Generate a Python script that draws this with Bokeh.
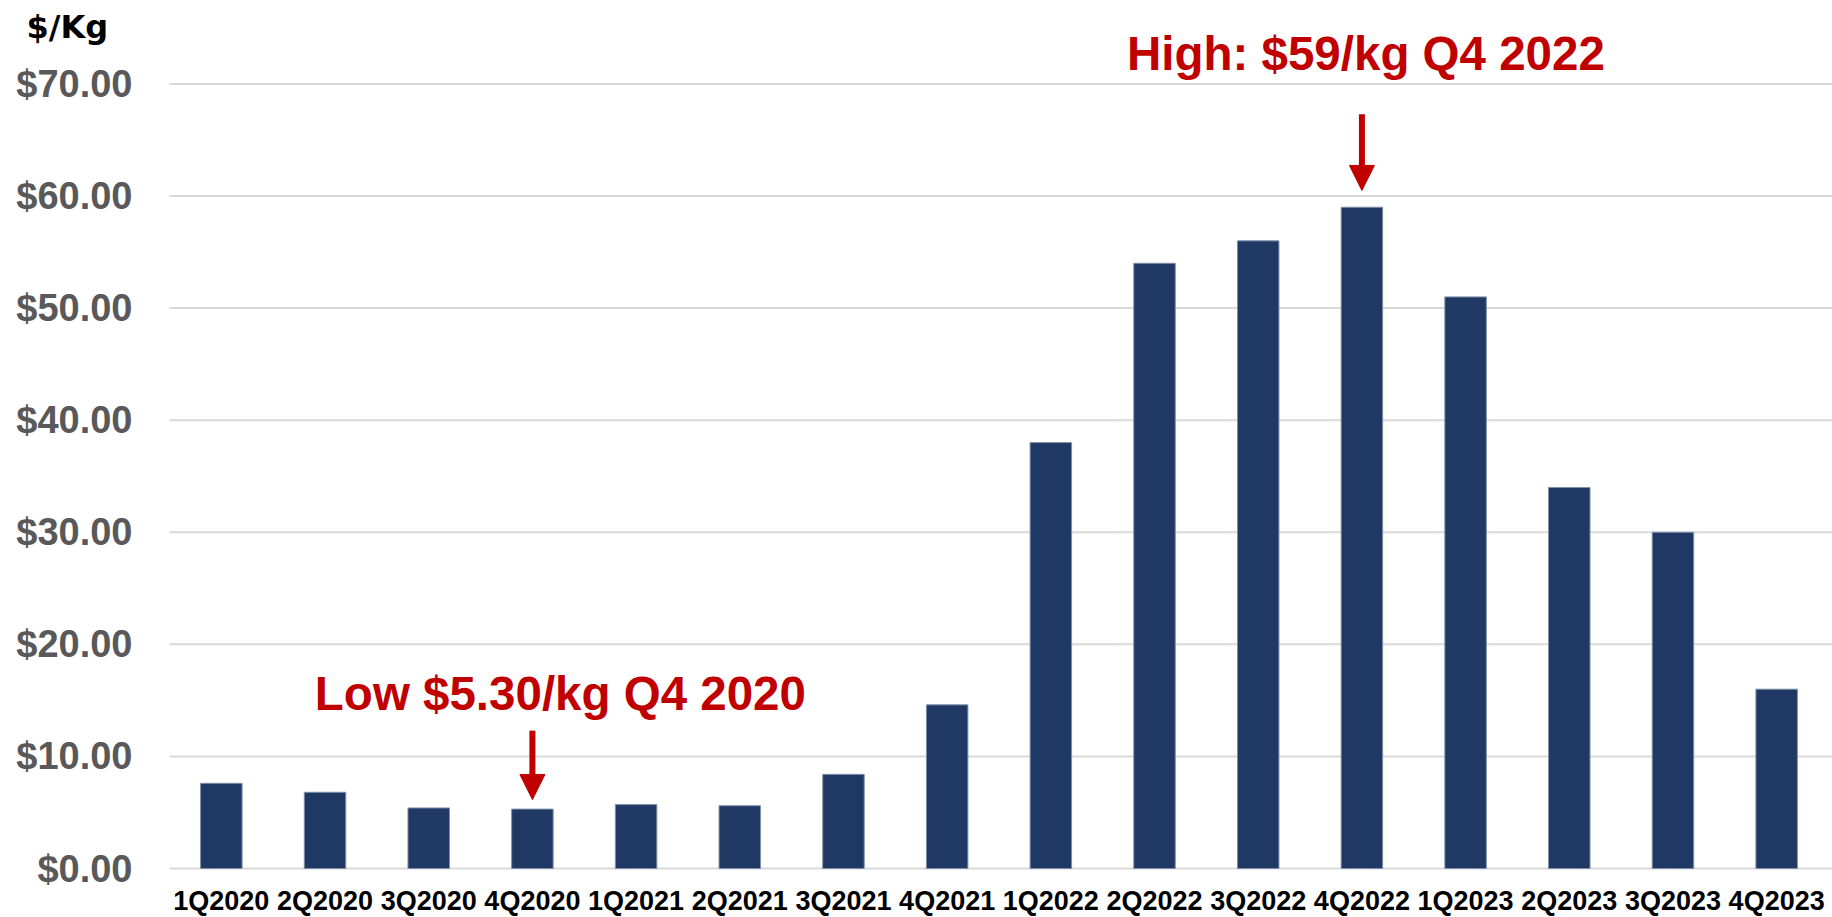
from bokeh.plotting import figure
from bokeh.models import (ColumnDataSource, FixedTicker, NumeralTickFormatter,
                          Arrow, NormalHead, Range1d)
from bokeh.core.properties import value
from bokeh.embed import file_html
from bokeh.resources import INLINE

# Quarterly price, $/kg
quarters = ["1Q2020", "2Q2020", "3Q2020", "4Q2020",
            "1Q2021", "2Q2021", "3Q2021", "4Q2021",
            "1Q2022", "2Q2022", "3Q2022", "4Q2022",
            "1Q2023", "2Q2023", "3Q2023", "4Q2023"]
prices = [7.6, 6.8, 5.4, 5.30,
          5.7, 5.6, 8.4, 14.6,
          38.0, 54.0, 56.0, 59.0,
          51.0, 34.0, 30.0, 16.0]
y_ticks = [0, 10, 20, 30, 40, 50, 60, 70]

# Callouts: text and the quarter each one points at
callout_text = ["High: $59/kg Q4 2022", "Low $5.30/kg Q4 2020"]
callout_quarter = ["4Q2022", "4Q2020"]
callout_value = [59.0, 5.30]

W, H = 1832, 917
PLOT_LEFT, PLOT_RIGHT = 169, 4        # pixel gutters around the bar area
PLOT_TOP, PLOT_BOTTOM = 5, 49
Y_MAX = 77.0

n = len(quarters)
xs = list(range(n))                    # one slot per quarter
step = (W - PLOT_LEFT - PLOT_RIGHT) / n
x_lo = -0.5 - PLOT_LEFT / step
x_hi = n - 0.5 + PLOT_RIGHT / step
ppu = (H - PLOT_TOP - PLOT_BOTTOM) / Y_MAX   # pixels per $/kg
y_lo = -PLOT_BOTTOM / ppu

p = figure(width=W, height=H, output_backend="svg", toolbar_location=None,
           x_range=Range1d(x_lo, x_hi), y_range=Range1d(y_lo, Y_MAX),
           min_border_left=0, min_border_right=0,
           min_border_top=PLOT_TOP, min_border_bottom=0)
p.outline_line_color = None
p.background_fill_color = "white"
p.border_fill_color = "white"

# horizontal guide lines across the bar area only
p.xgrid.grid_line_color = None
p.ygrid.grid_line_color = None
p.segment(x0=[-0.5] * len(y_ticks), x1=[x_hi] * len(y_ticks), y0=y_ticks, y1=y_ticks,
          line_color="#D9D9D9", line_width=2)

src = ColumnDataSource(dict(x=xs, q=quarters, v=prices))
p.vbar(x="x", top="v", width=0.4, source=src,
       fill_color="#203864", line_color="#7F8FA9", line_width=1)

# x axis: one labelled tick per quarter, pinned to the zero line
p.xaxis.ticker = FixedTicker(ticks=xs)
p.xaxis.major_label_overrides = {i: q for i, q in zip(xs, quarters)}
p.xaxis.fixed_location = 0
# y axis pinned to the left edge of the bar area
p.yaxis.ticker = FixedTicker(ticks=y_ticks)
p.yaxis.formatter = NumeralTickFormatter(format="$0.00")
p.yaxis.fixed_location = -0.5
for ax in (p.xaxis, p.yaxis):
    ax.axis_line_color = None
    ax.major_tick_line_color = None
    ax.minor_tick_line_color = None
p.yaxis.major_label_text_font = "Liberation Sans"
p.yaxis.major_label_text_font_style = "bold"
p.yaxis.major_label_text_font_size = "38px"
p.yaxis.major_label_text_color = "#595959"
p.yaxis.major_label_standoff = 31
p.xaxis.major_label_text_font = "Liberation Sans"
p.xaxis.major_label_text_font_style = "bold"
p.xaxis.major_label_text_font_size = "27px"
p.xaxis.major_label_text_color = "#000000"
p.xaxis.major_label_standoff = 11

# unit caption above the value labels
p.text(x=[x_lo + 26 / step], y=[75.1], text=["$/Kg"],
       text_font=value("DejaVu Sans"), text_font_style="bold",
       text_font_size="32px", text_color="#000000",
       text_align="left", text_baseline="middle")

red = "#C00000"
qidx = {q: i for i, q in zip(xs, quarters)}

# High callout
hx = qidx[callout_quarter[0]]
p.text(x=[hx], y=[72.7], text=[callout_text[0]], x_offset=4,
       text_font=value("Liberation Sans"), text_font_style="bold",
       text_font_size="47.5px", text_color=red,
       text_align="center", text_baseline="middle")
p.add_layout(Arrow(x_start=hx, y_start=67.3, x_end=hx, y_end=callout_value[0] + 1.5,
                   line_color=red, line_width=6,
                   end=NormalHead(size=25, fill_color=red, line_color=red, line_width=1)))

# Low callout
lx = qidx[callout_quarter[1]]
p.text(x=[lx], y=[15.6], text=[callout_text[1]], x_offset=28,
       text_font=value("Liberation Sans"), text_font_style="bold",
       text_font_size="47.5px", text_color=red,
       text_align="center", text_baseline="middle")
p.add_layout(Arrow(x_start=lx, y_start=12.3, x_end=lx, y_end=callout_value[1] + 0.85,
                   line_color=red, line_width=6,
                   end=NormalHead(size=25, fill_color=red, line_color=red, line_width=1)))

open("out.html", "w").write(file_html(p, INLINE))
